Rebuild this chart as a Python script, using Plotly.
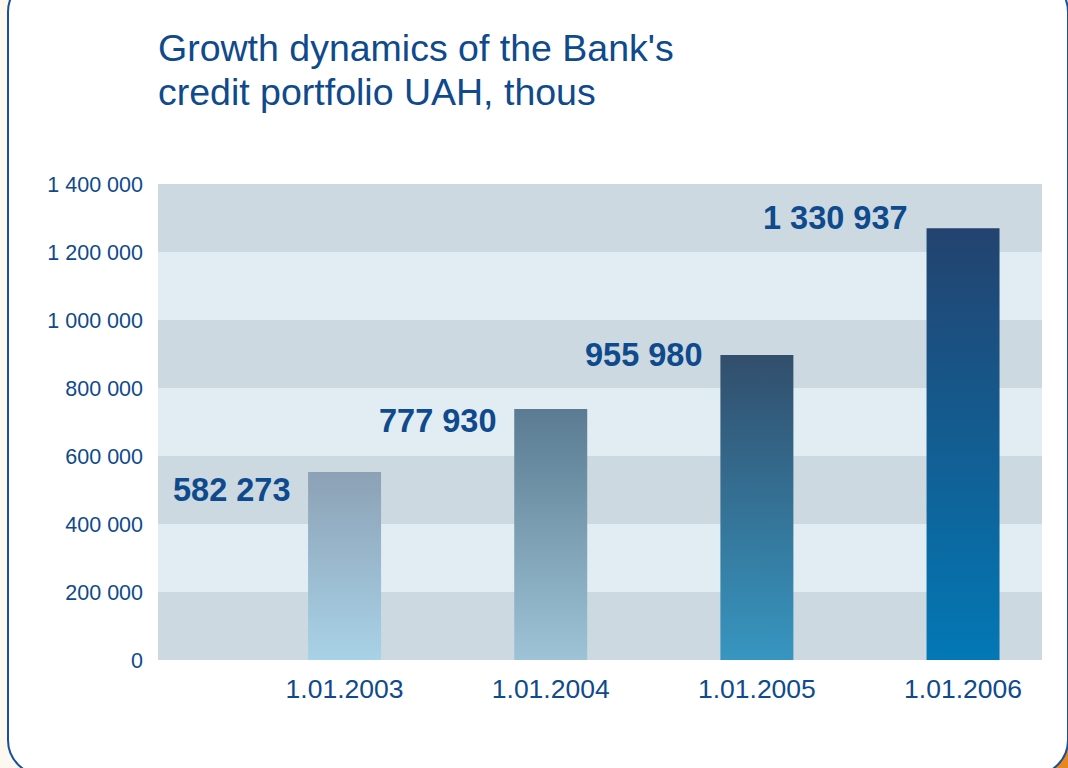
import plotly.graph_objects as go

# ---------------- data ----------------
categories = ["1.01.2003", "1.01.2004", "1.01.2005", "1.01.2006"]
value_labels = ["582 273", "777 930", "955 980", "1 330 937"]
bar_heights = [553000, 738000, 897000, 1270000]      # bar tops as drawn in the picture
tick_values = [0, 200000, 400000, 600000, 800000, 1000000, 1200000, 1400000]
title_lines = ["Growth dynamics of the Bank's", "credit portfolio UAH, thous"]

# ---------------- style ----------------
bar_top_colors = ["#8CA1B5", "#5A7B91", "#324E6C", "#23436F"]
bar_bottom_colors = ["#A8D2E7", "#9EC3D6", "#3796C0", "#0278B5"]
label_yshift = [-18, -12, 0, 10]
BAR_W = 0.354
LABEL_GAP = 0.08
FONT = "Liberation Sans, Arial, Helvetica, sans-serif"
TEXT_COLOR = "#0E4A8C"
BAND_DARK = "#CCD9E1"
BAND_LIGHT = "#E1ECF3"

W, H = 1068, 768
ML, MR, MT, MB = 158, 26, 184, 108
PW, PH = W - ML - MR, H - MT - MB


def px_x(px):
    return (px - ML) / PW


def px_y(py):
    return (H - MB - py) / PH


def fmt(v):
    return f"{v:,}".replace(",", " ")


fig = go.Figure()

for i, (h, top, bot) in enumerate(zip(bar_heights, bar_top_colors, bar_bottom_colors)):
    x0, x1 = i - BAR_W / 2, i + BAR_W / 2
    fig.add_trace(go.Scatter(
        x=[x0, x1, x1, x0, x0], y=[0, 0, h, h, 0],
        mode="lines", fill="toself", line=dict(width=0),
        fillgradient=dict(type="vertical", colorscale=[[0, bot], [1, top]], start=0, stop=h),
        hoverinfo="skip", showlegend=False,
    ))

for i, (h, txt, ys) in enumerate(zip(bar_heights, value_labels, label_yshift)):
    fig.add_annotation(
        x=i - BAR_W / 2 - LABEL_GAP, y=h, xref="x", yref="y", text=txt,
        showarrow=False, xanchor="right", yanchor="middle", yshift=ys,
        font=dict(family=FONT, size=32.5, color=TEXT_COLOR, weight="bold"),
    )

for line, cy in zip(title_lines, [48, 92]):
    fig.add_annotation(
        x=px_x(156), y=px_y(cy), xref="paper", yref="paper", text=line,
        showarrow=False, xanchor="left", yanchor="middle",
        font=dict(family=FONT, size=37.5, color=TEXT_COLOR),
    )


def rounded_rect_path(x0, y0, x1, y1, r):
    k = 0.5523 * r
    segs = [
        ("M", [(x0 + r, y0)]),
        ("L", [(x1 - r, y0)]),
        ("C", [(x1 - r + k, y0), (x1, y0 + r - k), (x1, y0 + r)]),
        ("L", [(x1, y1 - r)]),
        ("C", [(x1, y1 - r + k), (x1 - r + k, y1), (x1 - r, y1)]),
        ("L", [(x0 + r, y1)]),
        ("C", [(x0 + r - k, y1), (x0, y1 - r + k), (x0, y1 - r)]),
        ("L", [(x0, y0 + r)]),
        ("C", [(x0, y0 + r - k), (x0 + r - k, y0), (x0 + r, y0)]),
    ]
    out = []
    for cmd, pts in segs:
        out.append(cmd + " " + " ".join(f"{px_x(a):.5f},{px_y(b):.5f}" for a, b in pts))
    return " ".join(out) + " Z"


shapes = [
    dict(type="rect", xref="paper", yref="paper", x0=px_x(1020), x1=px_x(1068),
         y0=px_y(768), y1=px_y(715), fillcolor="#E8871E", line=dict(width=0), layer="below"),
    dict(type="path", xref="paper", yref="paper", path=rounded_rect_path(8, -23, 1068, 775, 35),
         fillcolor="white", line=dict(color="#1A4F9A", width=2), layer="below"),
    dict(type="rect", xref="paper", yref="y", x0=0, x1=1, y0=tick_values[0], y1=tick_values[-1],
         fillcolor=BAND_LIGHT, line=dict(width=0), layer="below"),
]
for j in range(0, len(tick_values) - 1, 2):
    shapes.append(dict(type="rect", xref="paper", yref="y", x0=0, x1=1,
                       y0=tick_values[j], y1=tick_values[j + 1],
                       fillcolor=BAND_DARK, line=dict(width=0), layer="below"))

fig.update_layout(
    width=W, height=H,
    margin=dict(l=ML, r=MR, t=MT, b=MB),
    paper_bgcolor="#FEF9F0",
    plot_bgcolor="rgba(0,0,0,0)",
    shapes=shapes,
    showlegend=False,
    font=dict(family=FONT, color=TEXT_COLOR),
)
fig.update_xaxes(
    range=[-0.905, 3.383], tickvals=list(range(len(categories))), ticktext=categories,
    showgrid=False, zeroline=False, showline=False, ticks="",
    tickfont=dict(family=FONT, size=26.5, color=TEXT_COLOR), ticklabelstandoff=10,
    fixedrange=True,
)
fig.update_yaxes(
    range=[tick_values[0], tick_values[-1]], tickvals=tick_values,
    ticktext=[fmt(v) for v in tick_values],
    showgrid=False, zeroline=False, showline=False, ticks="",
    tickfont=dict(family=FONT, size=21.5, color=TEXT_COLOR), ticklabelstandoff=14,
    fixedrange=True,
)

fig.write_html("out.html")
